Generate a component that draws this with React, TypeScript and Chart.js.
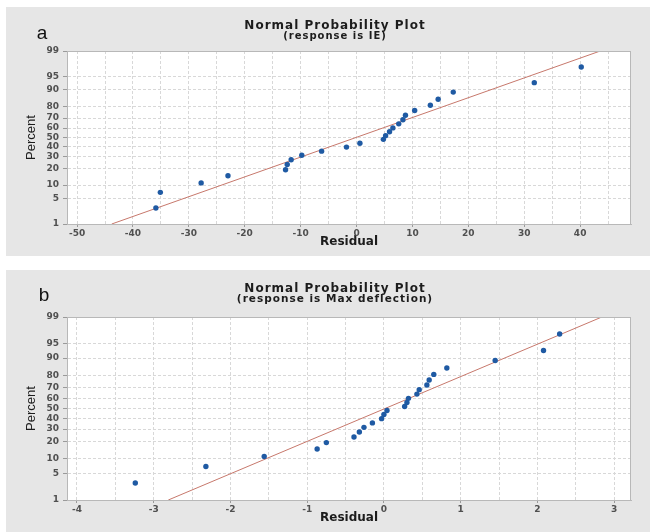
import React, { useEffect, useRef } from "react";
import { Chart, registerables } from "chart.js";

Chart.register(...registerables);

// ---------- data ----------
const percentTicks = [1, 5, 10, 20, 30, 40, 50, 60, 70, 80, 90, 95, 99];

// Panel a: response is IE
const residualA = [
  -35.9, -35.1, -27.8, -23.0, -12.7, -12.4, -11.7, -9.8, -6.25, -1.8, 0.6, 4.8,
  5.2, 5.9, 6.5, 7.55, 8.3, 8.75, 10.4, 13.2, 14.6, 17.3, 31.8, 40.2,
];
const percentA = [
  2.9, 7.0, 11.1, 15.2, 19.3, 23.4, 27.5, 31.6, 35.7, 39.8, 43.9, 48.0, 52.0,
  56.1, 60.2, 64.3, 68.4, 72.5, 76.6, 80.7, 84.8, 88.9, 93.0, 97.1,
];
const fitResidualA = [-43.8, 43.6];
const fitPercentA = [1, 99];
const xTicksA = [-50, -45, -40, -35, -30, -25, -20, -15, -10, -5, 0, 5, 10, 15, 20, 25, 30, 35, 40, 45];
const xLabelsA = [-50, -40, -30, -20, -10, 0, 10, 20, 30, 40];

// Panel b: response is Max deflection
const residualB = [
  -3.24, -2.32, -1.56, -0.87, -0.75, -0.39, -0.32, -0.26, -0.15, -0.03, 0.0,
  0.04, 0.27, 0.3, 0.32, 0.43, 0.46, 0.56, 0.59, 0.65, 0.82, 1.45, 2.08, 2.29,
];
const percentB = [
  2.9, 7.0, 11.1, 15.2, 19.3, 23.4, 27.5, 31.6, 35.7, 39.8, 43.9, 48.0, 52.0,
  56.1, 60.2, 64.3, 68.4, 72.5, 76.6, 80.7, 84.8, 88.9, 93.0, 97.1,
];
const fitResidualB = [-2.81, 2.84];
const fitPercentB = [1, 99];
const xTicksB = [-4, -3.5, -3, -2.5, -2, -1.5, -1, -0.5, 0, 0.5, 1, 1.5, 2, 2.5, 3];
const xLabelsB = [-4, -3, -2, -1, 0, 1, 2, 3];

// ---------- normal quantile (probability axis transform) ----------
function normInv(p: number): number {
  const a = [-3.969683028665376e1, 2.209460984245205e2, -2.759285104469687e2, 1.38357751867269e2, -3.066479806614716e1, 2.506628277459239];
  const b = [-5.447609879822406e1, 1.615858368580409e2, -1.556989798598866e2, 6.680131188771972e1, -1.328068155288572e1];
  const c = [-7.784894002430293e-3, -3.223964580411365e-1, -2.400758277161838, -2.549732539343734, 4.374664141464968, 2.938163982698783];
  const d = [7.784695709041462e-3, 3.224671290700398e-1, 2.445134137142996, 3.754408661907416];
  const plow = 0.02425;
  const phigh = 1 - plow;
  let q: number, r: number;
  if (p < plow) {
    q = Math.sqrt(-2 * Math.log(p));
    return (((((c[0] * q + c[1]) * q + c[2]) * q + c[3]) * q + c[4]) * q + c[5]) / ((((d[0] * q + d[1]) * q + d[2]) * q + d[3]) * q + 1);
  }
  if (p > phigh) {
    q = Math.sqrt(-2 * Math.log(1 - p));
    return -(((((c[0] * q + c[1]) * q + c[2]) * q + c[3]) * q + c[4]) * q + c[5]) / ((((d[0] * q + d[1]) * q + d[2]) * q + d[3]) * q + 1);
  }
  q = p - 0.5;
  r = q * q;
  return ((((((a[0] * r + a[1]) * r + a[2]) * r + a[3]) * r + a[4]) * r + a[5]) * q) / (((((b[0] * r + b[1]) * r + b[2]) * r + b[3]) * r + b[4]) * r + 1);
}

type PanelProps = {
  letter: string;
  subtitle: string;
  subtitleSize: number;
  residuals: number[];
  percents: number[];
  fitX: number[];
  fitP: number[];
  xMin: number;
  xMax: number;
  xTicks: number[];
  xLabels: number[];
  width: number;
  height: number;
  padTop: number;
  letterX: number;
  letterY: number;
};

const TICK_FONT = { family: "'DejaVu Sans', sans-serif", size: 9, weight: "bold" as const };

function Panel(props: PanelProps) {
  const ref = useRef<HTMLCanvasElement | null>(null);
  useEffect(() => {
    const canvas = ref.current;
    if (!canvas) return;
    const zMin = normInv(0.01);
    const zMax = normInv(0.99);
    const decor = {
      id: "decor",
      beforeDraw(chart: any) {
        const { ctx, chartArea } = chart;
        ctx.save();
        ctx.fillStyle = "#ffffff";
        ctx.fillRect(chartArea.left, chartArea.top, chartArea.right - chartArea.left, chartArea.bottom - chartArea.top);
        ctx.restore();
      },
      afterDraw(chart: any) {
        const { ctx, chartArea } = chart;
        ctx.save();
        ctx.strokeStyle = "#b8b8b8";
        ctx.lineWidth = 1;
        ctx.strokeRect(chartArea.left + 0.5, chartArea.top + 0.5, chartArea.right - chartArea.left - 1, chartArea.bottom - chartArea.top);
        ctx.fillStyle = "#1c1c1c";
        ctx.textAlign = "center";
        ctx.textBaseline = "alphabetic";
        (ctx as any).letterSpacing = "1px";
        ctx.font = "bold 12px 'DejaVu Sans', sans-serif";
        ctx.fillText("Normal Probability Plot", 329, 22);
        ctx.font = `bold ${props.subtitleSize}px 'DejaVu Sans', sans-serif`;
        ctx.fillText(props.subtitle, 329, 31.5);
        (ctx as any).letterSpacing = "0px";
        ctx.fillStyle = "#111111";
        ctx.font = "19px 'Liberation Sans', Arial, sans-serif";
        ctx.fillText(props.letter, props.letterX, props.letterY);
        ctx.restore();
      },
    };
    const chart = new Chart(canvas, {
      type: "scatter",
      data: {
        datasets: [
          {
            type: "line",
            data: props.fitX.map((x, i) => ({ x, y: normInv(props.fitP[i] / 100) })),
            borderColor: "#c7786c",
            borderWidth: 1,
            pointRadius: 0,
            fill: false,
            order: 2,
          } as any,
          {
            data: props.residuals.map((x, i) => ({ x, y: normInv(props.percents[i] / 100) })),
            backgroundColor: "#1f5aa3",
            borderColor: "#1f5aa3",
            pointRadius: 2.7,
            pointBorderWidth: 0,
            order: 1,
          },
        ],
      },
      options: {
        animation: false,
        responsive: false,
        layout: { padding: { top: props.padTop, right: 19, left: 0, bottom: 0 } },
        plugins: { legend: { display: false }, tooltip: { enabled: false }, title: { display: false } },
        scales: {
          x: {
            type: "linear",
            min: props.xMin,
            max: props.xMax,
            afterBuildTicks: (s: any) => {
              s.ticks = props.xTicks.map((v) => ({ value: v }));
            },
            afterFit: (s: any) => {
              s.height = 32;
            },
            ticks: {
              autoSkip: false,
              maxRotation: 0,
              padding: 1,
              color: "#505050",
              font: TICK_FONT,
              callback: (v: any) => (props.xLabels.includes(Number(v)) ? String(v) : ""),
            },
            grid: {
              color: "#d8d8d8",
              lineWidth: 1,
              tickLength: 3,
              tickColor: (ctx: any) =>
                ctx.tick && props.xLabels.includes(ctx.tick.value) ? "#9a9a9a" : "rgba(0,0,0,0)",
            },
            border: { display: true, color: "#b8b8b8", dash: [3, 2] },
            title: {
              display: true,
              text: "Residual",
              color: "#1c1c1c",
              font: { family: "'DejaVu Sans', sans-serif", size: 12, weight: "bold" },
              padding: { top: 0, bottom: 7 },
            },
          },
          y: {
            type: "linear",
            min: zMin,
            max: zMax,
            afterBuildTicks: (s: any) => {
              s.ticks = percentTicks.map((p) => ({ value: normInv(p / 100) }));
            },
            afterFit: (s: any) => {
              s.width = 61;
            },
            ticks: {
              autoSkip: false,
              padding: 4,
              color: "#505050",
              font: TICK_FONT,
              callback: (_v: any, i: number) => String(percentTicks[i]),
            },
            grid: { color: "#d8d8d8", lineWidth: 1, tickLength: 4, tickColor: "#9a9a9a" },
            border: { display: true, color: "#b8b8b8", dash: [3, 2] },
            title: {
              display: true,
              text: "Percent",
              color: "#1c1c1c",
              font: { family: "'Liberation Sans Narrow', 'Liberation Sans', sans-serif", size: 13 },
              padding: { top: 18, bottom: 0 },
            },
          },
        },
      },
      plugins: [decor],
    } as any);
    return () => chart.destroy();
  }, []);
  return <canvas ref={ref} width={props.width} height={props.height} style={{ display: "block" }} />;
}

export default function App() {
  return (
    <div style={{ position: "absolute", left: 0, top: 0, width: 655, height: 532, background: "#ffffff", overflow: "hidden" }}>
      <div style={{ position: "absolute", left: 6, top: 7, width: 644, height: 249, background: "#e6e6e6" }}>
        <Panel
          letter="a"
          subtitle="(response is IE)"
          subtitleSize={10}
          residuals={residualA}
          percents={percentA}
          fitX={fitResidualA}
          fitP={fitPercentA}
          xMin={-51.8}
          xMax={49.1}
          xTicks={xTicksA}
          xLabels={xLabelsA}
          width={644}
          height={249}
          padTop={44}
          letterX={36}
          letterY={32}
        />
      </div>
      <div style={{ position: "absolute", left: 6, top: 270, width: 644, height: 262, background: "#e6e6e6" }}>
        <Panel
          letter="b"
          subtitle="(response is Max deflection)"
          subtitleSize={10.5}
          residuals={residualB}
          percents={percentB}
          fitX={fitResidualB}
          fitP={fitPercentB}
          xMin={-4.13}
          xMax={3.22}
          xTicks={xTicksB}
          xLabels={xLabelsB}
          width={644}
          height={262}
          padTop={47}
          letterX={38}
          letterY={31}
        />
      </div>
    </div>
  );
}
